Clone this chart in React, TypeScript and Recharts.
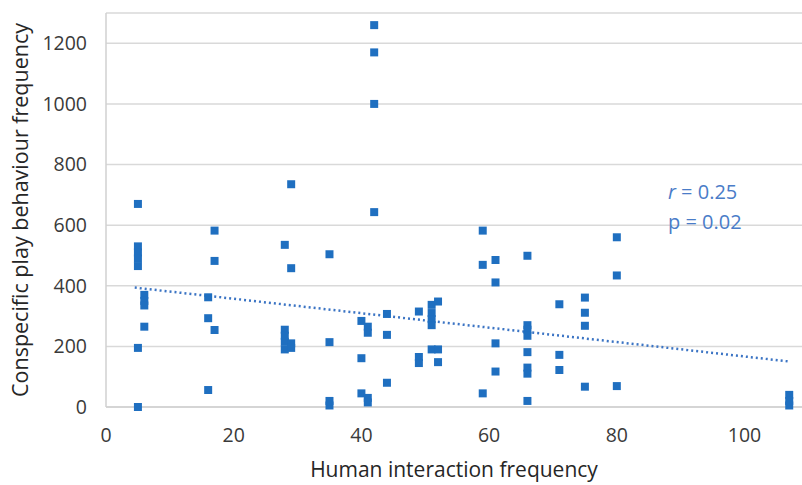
import {
  ScatterChart,
  Scatter,
  XAxis,
  YAxis,
  ZAxis,
  CartesianGrid,
  ReferenceLine,
} from "recharts";

// each entry: human interaction frequency, then the play counts recorded at it
const humanInteraction = [5, 6, 16, 17, 28, 29, 35, 40, 41, 42, 44, 49, 51, 52, 59, 61, 66, 71, 75, 80, 107];
const conspecificPlay = [
  [670, 530, 510, 490, 465, 195, 0],
  [370, 350, 335, 265],
  [362, 293, 56],
  [582, 482, 254],
  [535, 255, 235, 215, 190],
  [735, 458, 210, 195],
  [504, 214, 20, 5],
  [284, 161, 45],
  [265, 245, 30, 15],
  [1260, 1170, 1000, 643],
  [307, 238, 80],
  [315, 165, 145],
  [337, 310, 290, 270, 190],
  [348, 190, 148],
  [582, 469, 45],
  [485, 411, 210, 117],
  [499, 270, 255, 235, 181, 130, 110, 20],
  [339, 172, 122],
  [361, 311, 268, 67],
  [560, 434, 69],
  [40, 20, 5],
];

const trendX = [4.5, 107];
const trendY = [394, 150];

const xTicks = [0, 20, 40, 60, 80, 100];
const yTicks = [0, 200, 400, 600, 800, 1000, 1200];

const points = humanInteraction.flatMap((x, i) =>
  conspecificPlay[i].map((y) => ({ x, y }))
);

const FONT = "'Open Sans', Lato, sans-serif";
const MARKER = "#1f6fc0";

export default function App() {
  return (
    <div
      style={{
        position: "absolute",
        left: 0,
        top: 0,
        width: 802,
        height: 485,
        background: "#ffffff",
        fontFamily: FONT,
      }}
    >
      <ScatterChart
        width={802}
        height={485}
        margin={{ top: 13, right: 0, bottom: 0, left: 0 }}
      >
        <CartesianGrid vertical={false} stroke="#d9d9d9" strokeWidth={1.5} />
        <XAxis
          type="number"
          dataKey="x"
          domain={[0, 109]}
          ticks={xTicks}
          height={78}
          tickLine={false}
          axisLine={{ stroke: "#d0d0d0", strokeWidth: 1.5 }}
          tickSize={6}
          tickMargin={15}
          tick={{ fill: "#3a3a3a", fontSize: 19.5, fontFamily: FONT }}
          label={{
            value: "Human interaction frequency",
            position: "insideBottom",
            offset: 8,
            fill: "#262626",
            fontSize: 21,
            fontFamily: FONT,
          }}
        />
        <YAxis
          type="number"
          dataKey="y"
          domain={[0, 1300]}
          ticks={yTicks}
          width={106}
          tickLine={false}
          axisLine={{ stroke: "#d0d0d0", strokeWidth: 1.5 }}
          tickSize={6}
          tickMargin={13}
          tick={{ fill: "#3a3a3a", fontSize: 19.5, fontFamily: FONT }}
          label={{
            value: "Conspecific play behaviour frequency",
            angle: -90,
            position: "insideLeft",
            offset: 20,
            fill: "#262626",
            fontSize: 21.5,
            fontFamily: FONT,
            style: { textAnchor: "middle" },
          }}
        />
        <ZAxis range={[76, 76]} />
        <ReferenceLine
          segment={[
            { x: trendX[0], y: trendY[0] },
            { x: trendX[1], y: trendY[1] },
          ]}
          stroke="#3b74c4"
          strokeWidth={2.5}
          strokeDasharray="2 3"
        />
        <Scatter
          data={points}
          fill={MARKER}
          shape="square"
          isAnimationActive={false}
        />
      </ScatterChart>
      <div
        style={{
          position: "absolute",
          left: 668,
          top: 177,
          color: "#4a7cc8",
          fontSize: 20,
          lineHeight: "30px",
        }}
      >
        <div>
          <i>r</i> = 0.25
        </div>
        <div>p = 0.02</div>
      </div>
    </div>
  );
}
